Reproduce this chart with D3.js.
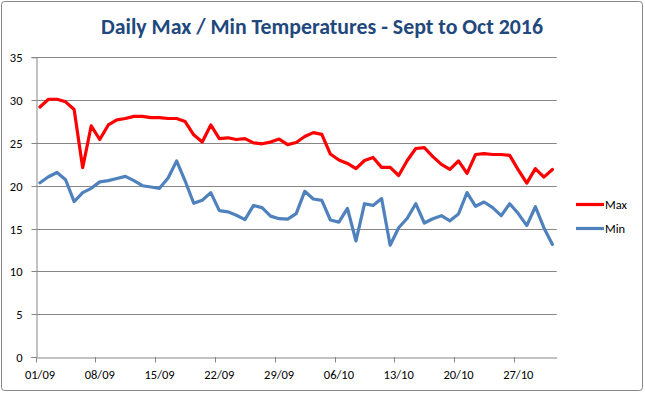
<!DOCTYPE html>
<html><head><meta charset="utf-8">
<script src="https://cdn.jsdelivr.net/npm/d3@7"></script>
<style>
html,body{margin:0;padding:0;background:#fff;}
svg{display:block;}
text{font-family:Carlito, Lato, "Open Sans", sans-serif;}
</style></head>
<body>
<svg id="chart" width="645" height="393"></svg>
<script>
const title = "Daily Max / Min Temperatures - Sept to Oct 2016";
const categories = ["01/09","02/09","03/09","04/09","05/09","06/09","07/09","08/09","09/09","10/09",
"11/09","12/09","13/09","14/09","15/09","16/09","17/09","18/09","19/09","20/09",
"21/09","22/09","23/09","24/09","25/09","26/09","27/09","28/09","29/09","30/09",
"01/10","02/10","03/10","04/10","05/10","06/10","07/10","08/10","09/10","10/10",
"11/10","12/10","13/10","14/10","15/10","16/10","17/10","18/10","19/10","20/10",
"21/10","22/10","23/10","24/10","25/10","26/10","27/10","28/10","29/10","30/10","31/10"];
const maxTemps = [29.2,30.1,30.1,29.8,28.9,22.1,27.0,25.4,27.1,27.7,
27.85,28.1,28.1,27.95,27.95,27.85,27.85,27.5,25.95,25.1,
27.1,25.5,25.6,25.4,25.5,25.0,24.9,25.1,25.45,24.8,
25.05,25.75,26.2,26.0,23.7,23.0,22.6,22.0,22.95,23.3,
22.15,22.15,21.2,22.95,24.35,24.45,23.4,22.5,21.9,22.9,
21.45,23.65,23.75,23.65,23.65,23.55,21.85,20.3,22.0,21.0,21.9];
const minTemps = [20.35,21.05,21.55,20.7,18.15,19.2,19.7,20.45,20.6,20.85,
21.1,20.6,20.0,19.85,19.7,20.9,22.9,20.55,17.95,18.3,
19.2,17.1,16.95,16.55,16.05,17.7,17.45,16.45,16.15,16.1,
16.75,19.35,18.45,18.3,16.0,15.75,17.35,13.55,17.9,17.7,
18.5,13.05,15.1,16.2,17.9,15.65,16.15,16.5,15.9,16.7,
19.2,17.6,18.1,17.45,16.5,17.9,16.75,15.35,17.55,15.1,13.15];
const tickLabels = ["01/09","08/09","15/09","22/09","29/09","06/10","13/10","20/10","27/10"];
const yTicks = [0,5,10,15,20,25,30,35];
const seriesNames = ["Max","Min"];
const seriesColors = ["#FF0000","#4F81BD"];

const svg = d3.select("#chart");
const L = 35.7, R = 556.7, T = 57.3, B = 357;
const grid = "#868686";

svg.append("rect").attr("x",1.5).attr("y",1.5).attr("width",641).attr("height",389)
  .attr("rx",3).attr("fill","#fff").attr("stroke",grid).attr("stroke-width",1);

const x = d3.scaleBand().domain(categories).range([L,R]).paddingInner(0).paddingOuter(0);
const y = d3.scaleLinear().domain([0,35]).range([B,T]);
const bw = x.bandwidth();

// gridlines
svg.append("g").selectAll("line").data(yTicks.filter(d=>d>0)).join("line")
  .attr("x1",L).attr("x2",R).attr("y1",d=>Math.round(y(d))+0.5).attr("y2",d=>Math.round(y(d))+0.5)
  .attr("stroke",grid).attr("stroke-width",1);

// y axis
const ya = svg.append("g").attr("transform",`translate(${Math.round(L)+0.5},0)`)
  .call(d3.axisLeft(y).tickValues(yTicks).tickSize(5).tickPadding(9).tickFormat(d3.format("d")));
ya.select(".domain").attr("stroke",grid);
ya.selectAll(".tick line").attr("stroke",grid);
ya.selectAll(".tick").attr("transform",d=>`translate(0,${Math.round(y(d))+0.5})`);
ya.selectAll("text").attr("font-size",12.5).attr("fill","#000").attr("font-family","Carlito, Lato, sans-serif").attr("dy","0.36em");

// x axis
const xa = svg.append("g").attr("transform",`translate(0,${Math.round(B)+0.5})`)
  .call(d3.axisBottom(x).tickValues(tickLabels).tickSize(0).tickPadding(13));
xa.select(".domain").attr("stroke",grid);
xa.selectAll("text").attr("font-size",12.5).attr("fill","#000").attr("font-family","Carlito, Lato, sans-serif");
svg.append("g").selectAll("line").data(tickLabels).join("line")
  .attr("x1",d=>Math.round(x(d))+0.5).attr("x2",d=>Math.round(x(d))+0.5)
  .attr("y1",Math.round(B)).attr("y2",Math.round(B)+5.5).attr("stroke",grid);

// lines
const series = [maxTemps, minTemps];
const line = d3.line().x((d,i)=>x(categories[i])+bw/2).y(d=>y(d));
series.forEach((s,k)=>{
  svg.append("path").datum(s).attr("d",line).attr("fill","none")
    .attr("stroke",seriesColors[k]).attr("stroke-width",3.2).attr("stroke-linejoin","round").attr("stroke-linecap","round");
});

// legend
seriesNames.forEach((n,k)=>{
  const ly = 204.5 + k*24;
  svg.append("line").attr("x1",576).attr("x2",604).attr("y1",ly).attr("y2",ly)
    .attr("stroke",seriesColors[k]).attr("stroke-width",3.2);
  svg.append("text").attr("x",605).attr("y",ly).attr("dy","0.36em").attr("font-size",12.5).attr("fill","#000").text(n);
});

// title
const t = svg.append("text").attr("x",322).attr("y",34).attr("text-anchor","middle")
  .attr("font-weight","bold").attr("font-size",20).attr("fill","#1F497D").text(title);
const w = t.node().getComputedTextLength();
t.attr("font-size",20*442/w);
</script>
</body></html>
